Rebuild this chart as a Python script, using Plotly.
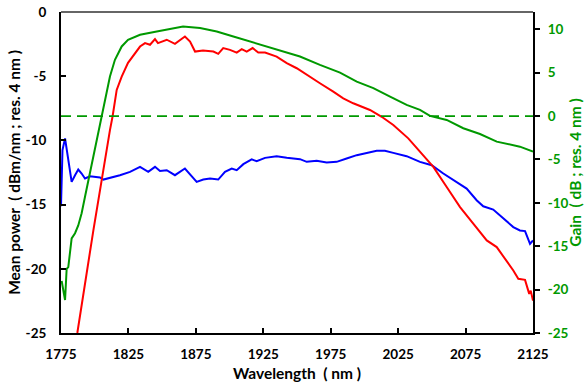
import plotly.graph_objects as go

# ---- data ----
red_nm = [1787.1, 1799.0, 1811.3, 1813.3, 1816.3, 1820.0, 1824.7, 1829.9, 1833.6, 1837.3, 1841.0, 1844.7,
          1846.9, 1853.4, 1859.5, 1866.9, 1870.7, 1874.4, 1880.3, 1888.0, 1891.6, 1895.3, 1900.3, 1905.3,
          1909.0, 1912.7, 1917.1, 1921.3, 1926.3, 1934.9, 1942.4, 1949.8, 1957.2, 1967.0, 1976.9, 1984.3,
          1991.7, 2004.1, 2012.8, 2021.4, 2032.5, 2041.2, 2051.1, 2061.0, 2070.9, 2080.7, 2090.7, 2098.1,
          2105.5, 2110.4, 2114.1, 2119.1, 2122.2, 2123.3, 2125.0]
red_power = [-25.0, -17.0, -9.2, -8.1, -6.07, -5.03, -3.96, -3.18, -2.69, -2.42, -2.55, -2.11,
             -2.42, -2.16, -2.48, -1.91, -2.30, -3.08, -3.0, -3.08, -3.26, -2.81, -2.95, -3.16,
             -2.89, -3.08, -2.81, -3.16, -3.16, -3.47, -3.98, -4.38, -4.90, -5.55, -6.20, -6.72,
             -7.11, -7.63, -8.16, -8.80, -9.84, -10.89, -12.06, -13.63, -15.19, -16.48, -17.79, -18.31,
             -19.35, -20.13, -20.78, -20.86, -21.95, -21.7, -22.48]

blue_nm = [1775.0, 1775.4, 1776.1, 1778.0, 1780.4, 1782.9, 1785.4, 1787.8, 1790.3, 1792.8, 1796.5, 1803.9,
           1806.4, 1811.3, 1818.7, 1826.2, 1833.6, 1839.7, 1844.7, 1848.4, 1853.4, 1859.5, 1866.9, 1875.6,
           1880.5, 1885.5, 1891.6, 1896.6, 1901.6, 1905.3, 1910.2, 1916.4, 1920.1, 1926.3, 1934.9, 1942.4,
           1952.2, 1957.2, 1964.6, 1972.0, 1979.4, 1986.8, 1994.3, 2009.1, 2015.2, 2021.4, 2031.3, 2041.2,
           2049.9, 2058.5, 2068.4, 2075.8, 2083.2, 2088.1, 2095.5, 2103.0, 2110.4, 2115.3, 2119.1, 2122.8,
           2125.0]
blue_power = [-15.13, -12.3, -10.76, -9.84, -11.67, -13.23, -12.71, -12.27, -12.58, -12.97, -12.79, -12.89,
              -13.05, -12.92, -12.71, -12.45, -12.06, -12.45, -12.06, -12.38, -12.32, -12.71, -12.19, -13.23,
              -13.05, -12.97, -13.05, -12.45, -12.19, -12.32, -11.85, -11.48, -11.62, -11.36, -11.23, -11.36,
              -11.46, -11.67, -11.59, -11.72, -11.67, -11.41, -11.15, -10.81, -10.81, -10.97, -11.23, -11.67,
              -11.93, -12.58, -13.23, -13.75, -14.66, -15.13, -15.39, -16.09, -16.75, -17.01, -17.06, -18.05,
              -17.79]

green_nm = [1775.5, 1778.0, 1779.2, 1780.4, 1782.9, 1785.4, 1787.8, 1790.3, 1792.8, 1796.5, 1801.5, 1805.2,
            1811.3, 1815.0, 1820.0, 1824.7, 1833.6, 1846.0, 1858.0, 1865.5, 1878.1, 1885.5, 1890.5, 1902.8,
            1915.1, 1927.5, 1939.8, 1952.2, 1967.0, 1976.9, 1981.9, 1994.3, 2006.6, 2019.0, 2031.3, 2041.2,
            2048.6, 2061.0, 2073.3, 2085.7, 2098.1, 2115.3, 2125.0]
green_gain = [-19.0, -21.2, -17.6, -17.4, -14.1, -13.5, -12.6, -11.2, -9.3, -6.56, -2.75, 0.02,
              4.56, 6.49, 8.03, 8.80, 9.38, 9.76, 10.15, 10.33, 10.15, 9.95, 9.76, 9.18,
              8.60, 8.03, 7.45, 6.87, 5.91, 5.33, 5.02, 3.98, 3.22, 2.25, 1.29, 0.72,
              0.02, -0.44, -1.40, -2.06, -2.94, -3.52, -4.10]

ref_nm = [1775, 2125]
ref_gain = [0, 0]

x_ticks = [1775, 1825, 1875, 1925, 1975, 2025, 2075, 2125]
y_ticks = [0, -5, -10, -15, -20, -25]
y_ticklabels = ["0", "-5", "-10", "-15", "-20", "-25"]
y2_ticks = [10, 5, 0, -5, -10, -15, -20, -25]
y2_ticklabels = ["10", "5", "0", "-5", "-10", "-15", "-20", "-25"]

GREEN = "#009900"
FONT = "Lato"
TICK = 13.5
TITLE = 15.5

fig = go.Figure()
fig.add_trace(go.Scatter(x=ref_nm, y=ref_gain, yaxis="y2", mode="lines",
                         line=dict(color=GREEN, width=1.8, dash="10px,6px"), showlegend=False))
fig.add_trace(go.Scatter(x=blue_nm, y=blue_power, mode="lines",
                         line=dict(color="#0000ff", width=2), showlegend=False))
fig.add_trace(go.Scatter(x=red_nm, y=red_power, mode="lines",
                         line=dict(color="#ff0000", width=2), showlegend=False))
fig.add_trace(go.Scatter(x=green_nm, y=green_gain, yaxis="y2", mode="lines",
                         line=dict(color=GREEN, width=2), showlegend=False))

fig.update_layout(
    width=584, height=387,
    margin=dict(l=61, r=51, t=12, b=54, autoexpand=False),
    paper_bgcolor="white", plot_bgcolor="white",
    font=dict(family=FONT, size=TICK, color="black", weight="bold"),
    xaxis=dict(range=[1775, 2125], tickvals=x_ticks, ticks="inside", ticklen=5, tickwidth=1.5,
               tickcolor="black", showline=True, linecolor="black", linewidth=2, showgrid=False,
               zeroline=False, ticklabelstandoff=8, automargin=False,
               title=dict(text="Wavelength  ( nm )", font=dict(size=TITLE, family=FONT, weight="bold"), standoff=7)),
    yaxis=dict(range=[-25, 0], tickvals=y_ticks, ticktext=y_ticklabels, ticks="inside", ticklen=5,
               tickwidth=1.5, tickcolor="black", showline=True, linecolor="black", linewidth=2,
               showgrid=False, zeroline=False, ticklabelstandoff=10, automargin=False,
               title=dict(text="Mean power  ( dBm/nm ; res. 4 nm )", font=dict(size=TITLE, family=FONT, weight="bold"), standoff=1)),
    yaxis2=dict(range=[-25, 12], overlaying="y", side="right", tickvals=y2_ticks, ticktext=y2_ticklabels,
                ticks="outside", ticklen=5, tickwidth=1.5, tickcolor="black", showline=True,
                linecolor="black", linewidth=2, showgrid=False, zeroline=False, automargin=False,
                tickfont=dict(color=GREEN, size=TICK, family=FONT, weight="bold"), ticklabelstandoff=5,
                title=dict(text="Gain  ( dB ; res. 4 nm )", font=dict(color=GREEN, size=TITLE, family=FONT, weight="bold"), standoff=9)),
    shapes=[dict(type="line", xref="paper", yref="paper", x0=0, x1=1, y0=1, y1=1,
                 line=dict(color="#333333", width=1.5))],
)

fig.write_html("out.html")
